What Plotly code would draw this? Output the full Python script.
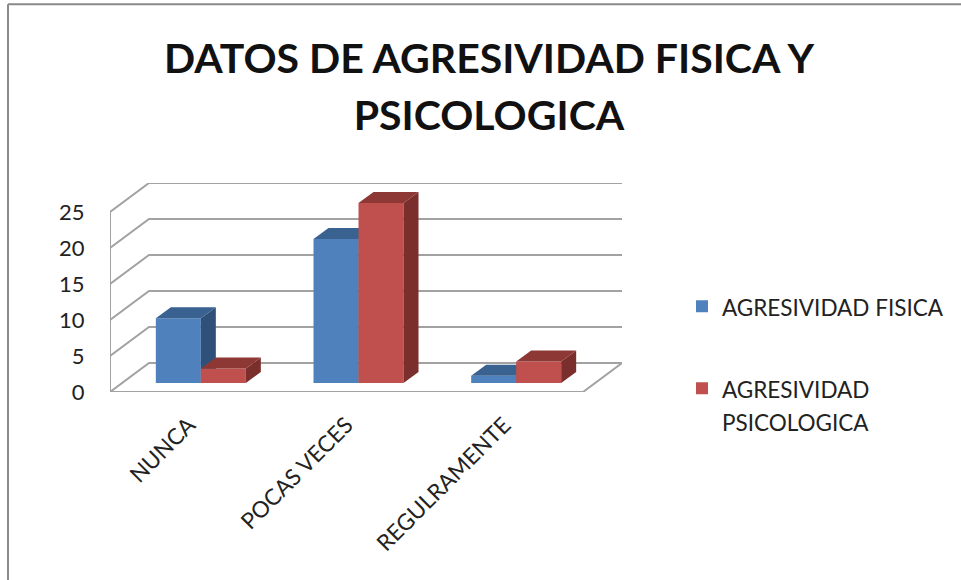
import plotly.graph_objects as go

categories = ["NUNCA", "POCAS VECES", "REGULRAMENTE"]
fisica = [9, 20, 1]
psicologica = [2, 25, 3]
y_ticks = [0, 5, 10, 15, 20, 25]
title_lines = ["DATOS DE AGRESIVIDAD FISICA Y", "PSICOLOGICA"]
fisica_name = "AGRESIVIDAD FISICA"
psicologica_lines = ["AGRESIVIDAD", "PSICOLOGICA"]

FONT = "Lato, Carlito, Calibri, sans-serif"
PX_X = 157.67
PX_Y = 7.2
to_x = lambda px: px / PX_X
to_y = lambda px: px / PX_Y
WALL_DX, WALL_DY = to_x(39), to_y(29)
BAR_DX, BAR_DY = to_x(12), to_y(9)
DEPTH_DX, DEPTH_DY = to_x(15), to_y(11)
BAR_W = to_x(45)
X0, X1 = -0.5, 2.5
XR = [X0, X1 + WALL_DX]
YR = [0, 25 + WALL_DY]


def sized(text, px):
    return f'<span style="font-size:{px}px">{text}</span>'


fig = go.Figure()

# walls and floor
wx, wy = [], []
for v in y_ticks:
    wx += [X0, X0 + WALL_DX, X1 + WALL_DX, None]
    wy += [v, v + WALL_DY, v + WALL_DY, None]
wx += [X0, X0, None, X0, X1, X1 + WALL_DX]
wy += [y_ticks[0], y_ticks[-1], None, 0, 0, WALL_DY]
fig.add_trace(go.Scatter(x=wx, y=wy, mode="lines", showlegend=False, hoverinfo="skip",
                         line=dict(color="#a2a2a2", width=2), cliponaxis=False))


def add_series(values, name, group, offset, front, side, top, xa, ya):
    xs = [i + BAR_DX for i in range(len(values))]
    fig.add_trace(go.Bar(x=xs, y=values, base=BAR_DY, width=BAR_W, offset=offset, name=name,
                         legendgroup=group,
                         marker=dict(color=front, line=dict(width=0)), xaxis=xa, yaxis=ya))
    sx, sy, tx, ty = [], [], [], []
    for x, v in zip(xs, values):
        l, r = x + offset, x + offset + BAR_W
        b, t = BAR_DY, BAR_DY + v
        sx += [r, r + DEPTH_DX, r + DEPTH_DX, r, r, None]
        sy += [b, b + DEPTH_DY, t + DEPTH_DY, t, b, None]
        tx += [l, l + DEPTH_DX, r + DEPTH_DX, r, l, None]
        ty += [t, t + DEPTH_DY, t + DEPTH_DY, t, t, None]
    for fx, fy, c in ((sx, sy, side), (tx, ty, top)):
        fig.add_trace(go.Scatter(x=fx, y=fy, mode="lines", fill="toself", fillcolor=c,
                                 line=dict(width=0), showlegend=False, hoverinfo="skip",
                                 xaxis=xa, yaxis=ya, cliponaxis=False))


add_series(fisica, sized(fisica_name, 22.5), "a", -BAR_W, "#4f81bd", "#2f5179", "#3a6291", "x2", "y2")
add_series(psicologica, "&nbsp;<br>" + "<br>".join(sized(t, 22.5) for t in psicologica_lines), "b", 0,
           "#c0504d", "#7a2f2c", "#8e3835", "x3", "y3")

hidden = dict(visible=False, fixedrange=True)
fig.update_layout(
    width=961, height=580, autosize=False,
    margin=dict(l=110, r=339, t=183, b=188, pad=0),
    paper_bgcolor="white", plot_bgcolor="rgba(0,0,0,0)",
    font=dict(family=FONT, color="#222222"),
    title=dict(text="<br>".join(sized(t, 41) for t in title_lines), x=489 / 961, xanchor="center",
               y=0.875, yanchor="bottom", xref="container", yref="container",
               font=dict(family=FONT, size=44, color="#111111", weight="bold")),
    xaxis=dict(range=XR, tickmode="array", tickvals=list(range(len(categories))), ticktext=categories,
               tickangle=-45, ticks="outside", ticklen=10, tickcolor="rgba(0,0,0,0)",
               tickfont=dict(size=22.5), showgrid=False, zeroline=False, showline=False),
    yaxis=dict(range=YR, tickmode="array", tickvals=y_ticks, ticks="outside", ticklen=20,
               tickcolor="rgba(0,0,0,0)", tickfont=dict(size=22), showgrid=False,
               zeroline=False, showline=False),
    xaxis2=dict(range=XR, overlaying="x", **hidden),
    yaxis2=dict(range=YR, overlaying="y", **hidden),
    xaxis3=dict(range=XR, overlaying="x", **hidden),
    yaxis3=dict(range=YR, overlaying="y", **hidden),
    legend=dict(x=682 / 961, xref="container", y=1 - 283.5 / 580, yref="container",
                xanchor="left", yanchor="top", font=dict(size=25), itemsizing="constant",
                tracegroupgap=14, bgcolor="rgba(0,0,0,0)", traceorder="grouped"),
    shapes=[
        dict(type="line", xref="paper", yref="paper", x0=(8 - 110) / 512, x1=(961 - 110) / 512,
             y0=(391.7 - 4) / 209, y1=(391.7 - 4) / 209, line=dict(color="#8a8a8a", width=2)),
        dict(type="line", xref="paper", yref="paper", x0=(8 - 110) / 512, x1=(8 - 110) / 512,
             y0=(391.7 - 4) / 209, y1=(391.7 - 580) / 209, line=dict(color="#8a8a8a", width=2)),
    ],
)
fig.write_html("out.html", config=dict(displayModeBar=False),
               post_script="document.body.style.margin='0';document.body.style.overflow='hidden';")
